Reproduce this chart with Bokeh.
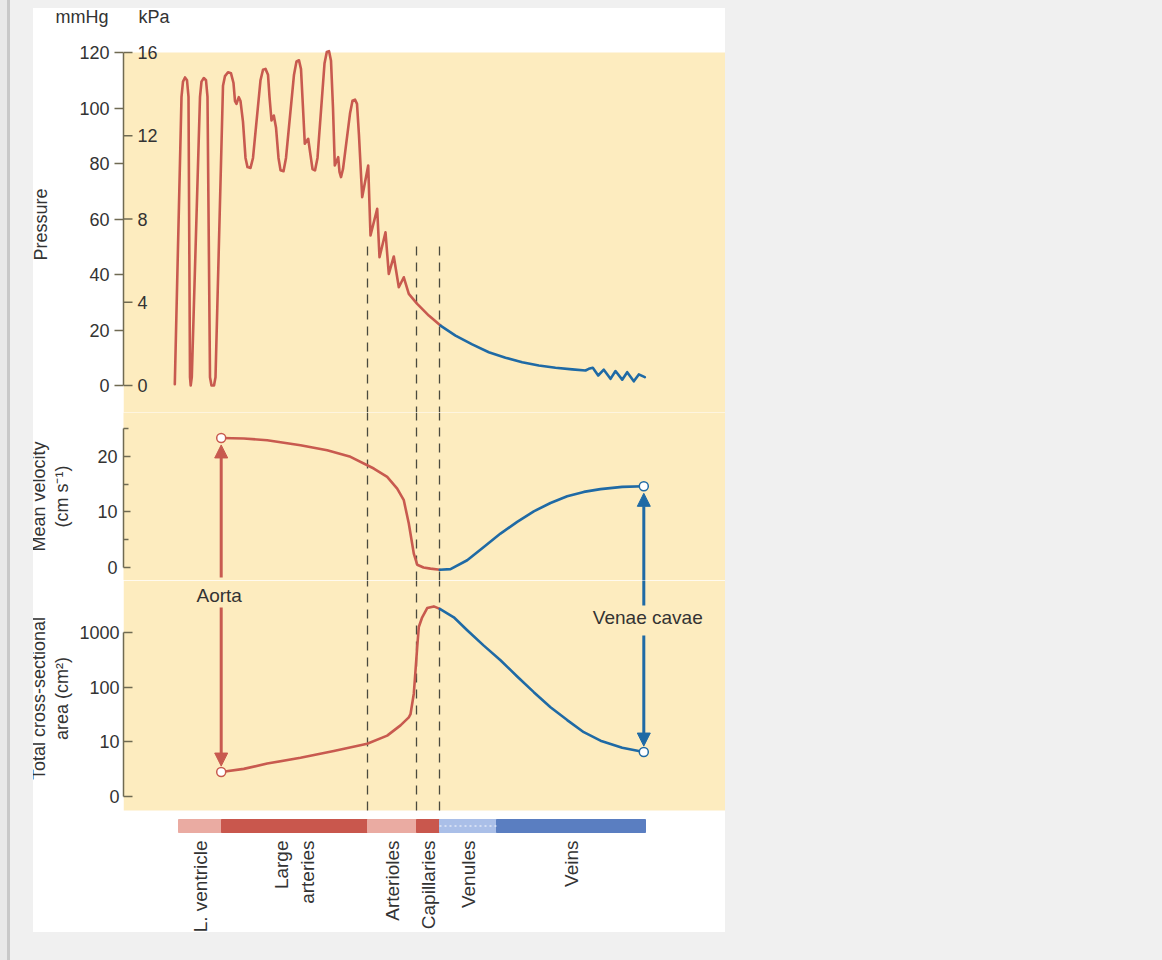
import math
from bokeh.plotting import figure
from bokeh.layouts import row, column
from bokeh.models import (Range1d, LinearAxis, LogAxis, FixedTicker, Arrow, NormalHead,
                          BoxAnnotation, Spacer, Div)
from bokeh.core.properties import value
from bokeh.embed import file_html
from bokeh.resources import INLINE

# ---------------- data ----------------
segment_names = ["L. ventricle", "Large\narteries", "Arterioles", "Capillaries", "Venules", "Veins"]
segment_edges = [0, 43, 189, 238, 261, 318, 467]   # position along the circulation

pressure_ticks_mmhg = [0, 20, 40, 60, 80, 100, 120]
pressure_ticks_kpa = [0, 4, 8, 12, 16]
velocity_ticks = [0, 10, 20]
velocity_minor_ticks = [5, 15, 25]
area_ticks = [1, 10, 100, 1000]
area_tick_labels = ["0", "10", "100", "1000"]
unit_names = ["mmHg", "kPa"]

# pressure (mmHg), arterial side (red) and venous side (blue)
art_pos = [-3.7, 3.0, 4.5, 6.5, 8.5, 10.0, 11.5, 12.2, 13.3,
           21.5, 23.0, 25.3, 27.5, 29.0, 31.5, 33.0, 35.5, 37.0,
           44.5, 46.5, 49.5, 52.5, 55.0, 56.5, 58.0, 60.3, 62.0, 64.5, 67.0, 69.0, 72.0, 74.5,
           82.0, 84.5, 87.0, 89.5, 91.0, 93.0, 95.3, 97.5, 100.0, 102.0, 105.0, 107.5,
           115.5, 118.0, 120.5, 122.5, 124.5, 126.3, 129.7, 132.0, 134.0, 136.5, 139.0,
           146.0, 148.3, 150.5, 152.5, 154.5, 156.3, 159.7, 161.0, 162.5, 164.5,
           171.5, 174.0, 176.5, 178.5, 180.5, 183.7,
           189.7, 192.0, 198.7, 201.0, 207.0, 210.3, 215.3, 220.3, 225.3, 230.3, 238.7,
           250.3, 262.0]
art_pressure = [0.5, 104, 109.5, 111.0, 110.0, 104, 3, 0, 3,
                104, 109.5, 110.8, 110.0, 104, 3, 0, 0, 3,
                108, 111.5, 112.9, 112.5, 109, 102.5, 101.5, 103.9, 102.5, 95, 82, 78.7, 78.4, 82,
                110, 113.8, 114.1, 112, 104, 95.5, 97.3, 93, 82, 77.6, 77.2, 82,
                112, 116.8, 117.2, 114, 100, 87.1, 88.9, 83, 78, 77.5, 82,
                116, 120.2, 120.5, 117, 100, 79.3, 82.3, 77, 75.1, 78,
                98, 102.6, 103.0, 101.5, 90, 67.9,
                79.3, 54.1, 63.7, 46.2, 55.2, 40.2, 46.5, 35.4, 39.0, 33.0, 29.4, 25.2, 21.6]
ven_pos = [262.0, 277.0, 293.7, 310.3, 327.0, 343.7, 360.3, 377.0, 393.7, 407.0, 410.3,
           414.3, 419.7, 425.3, 432.0, 437.0, 443.7, 448.7, 455.3, 460.3, 466.3]
ven_pressure = [21.6, 18.0, 14.8, 12.0, 10.0, 8.4, 7.2, 6.4, 5.8, 5.4, 6.0, 6.4, 3.6, 5.7,
                2.4, 5.2, 2.1, 4.8, 1.5, 4.0, 3.0]

# mean velocity (cm/s)
art_vel_pos = [42.7, 65.3, 88.7, 122.0, 148.7, 172.0, 195.3, 208.7, 218.7, 225.3, 230.3,
               235.3, 238.7, 245.0, 252.0, 261.3]
art_velocity = [23.3, 23.2, 22.9, 22.0, 21.1, 19.9, 17.8, 16.3, 14.2, 12.1, 7.9, 2.5, 0.5,
                0.0, -0.2, -0.4]
ven_vel_pos = [261.3, 272.0, 288.7, 305.3, 322.0, 338.7, 355.3, 372.0, 388.7, 405.3, 422.0,
               443.7, 465.3]
ven_velocity = [-0.4, -0.3, 1.3, 3.7, 6.1, 8.2, 10.1, 11.6, 12.8, 13.6, 14.1, 14.5, 14.6]

# total cross-sectional area (cm^2)
art_area_pos = [42.7, 65.3, 88.7, 122.0, 155.3, 188.7, 208.7, 222.0, 230.3, 232.0, 235.3,
                237.0, 238.7, 240.3, 243.7, 248.7, 255.3, 261.3]
art_area = [2.8, 3.2, 4.0, 5.1, 6.8, 9.2, 13, 20, 28, 32, 76, 200, 540, 1260, 1900, 2800,
            3000, 2700]
ven_area_pos = [261.3, 275.3, 288.7, 305.3, 322.0, 338.7, 355.3, 372.0, 388.7, 405.3, 422.0,
                443.7, 465.3]
ven_area = [2700, 1900, 1100, 575, 310, 157, 81, 43, 25, 15, 10.5, 7.8, 6.5]

# ---------------- style ----------------
YELLOW = "#fdecbf"
RED = "#c85a4f"
BLUE = "#1f6aa5"
SEG_COLORS = ["#eaaba2", "#c9574d", "#eaaba2", "#c9574d", "#aabfe8", "#5a7ec1"]
AXIS_COLOR = "#6f6a52"
TEXT_COLOR = "#333333"
GREY = "#f0f0f0"
FONT = "Liberation Sans"
FS = "18px"
FS_BIG = "19px"

# ---------------- layout (page pixels) ----------------
FIG_X = 25           # page x of the figures' left edge
PANEL_X = 33         # page x where the white panel starts
FRAME_X = 123        # page x of the plotting frame's left edge
W = 725 - FIG_X      # figure width (frame ends at page x 725)
LEFT = FRAME_X - FIG_X
X_RANGE = (FRAME_X - 178, 725 - 178)   # position 0 sits at page x 178
HEAD_TOP, F1_TOP, F2_TOP, F3_TOP, F4_TOP, BOTTOM = 8, 36, 412, 580, 816, 932
P_ZERO_Y, P_PX = 385, 333 / 120       # pressure: page y of 0 mmHg, px per mmHg
V_ZERO_Y, V_PX = 567, 139 / 25        # velocity
A_ONE_Y, A_PX = 796, 164 / 3          # area: page y of 1 cm^2 ("0"), px per decade
YELLOW_BOTTOM_Y = 810


def yp(py):
    return (P_ZERO_Y - py) / P_PX


def yv(py):
    return (V_ZERO_Y - py) / V_PX


def ya(py):
    return 10 ** ((A_ONE_Y - py) / A_PX)


def make_fig(height, y_range, bg, **kw):
    f = figure(width=W, height=height, x_range=Range1d(*X_RANGE), y_range=y_range,
               output_backend="svg", toolbar_location=None, title=None,
               x_axis_location=None, y_axis_location=None,
               min_border_left=LEFT, min_border_right=0, min_border_top=0,
               min_border_bottom=0, background_fill_color=bg,
               border_fill_color="white", outline_line_color=None, **kw)
    f.xgrid.visible = False
    f.ygrid.visible = False
    return f


def style_axis(ax):
    ax.axis_line_color = AXIS_COLOR
    ax.axis_line_width = 1.5
    ax.major_tick_line_color = AXIS_COLOR
    ax.major_tick_line_width = 1.5
    ax.minor_tick_line_color = AXIS_COLOR
    ax.minor_tick_line_width = 1.5
    ax.major_label_text_font = FONT
    ax.major_label_text_font_size = FS
    ax.major_label_text_color = TEXT_COLOR
    ax.axis_label_text_font = FONT
    ax.axis_label_text_font_size = FS
    ax.axis_label_text_font_style = "normal"
    ax.axis_label_text_color = TEXT_COLOR
    ax.axis_label_text_line_height = 1.15


def dashed(f, y0, y1):
    for xb in segment_edges[2:5]:
        f.segment(x0=xb, y0=y0, x1=xb, y1=y1, line_color="#4a4a3e", line_width=1.3,
                  line_dash="9 7")


def text(f, x, y, t, size=FS, **kw):
    f.text(x=x, y=y, text=t, text_font=value(FONT), text_font_size=size,
           text_color=TEXT_COLOR, **kw)


def curve(f, x, y, color):
    f.line(x, y, line_color=color, line_width=2.6, line_join="round", line_cap="round")


# ---------- header with the unit names ----------
unit_centers = [82 - FIG_X, 154 - FIG_X]
spans = "".join(
    f'<span style="position:absolute;left:{cx}px;top:9px;transform:translate(-50%,-50%);'
    f'white-space:nowrap">{name}</span>'
    for cx, name in zip(unit_centers, unit_names))
head = Div(text=(f'<div style="position:relative;width:{W}px;height:{F1_TOP - HEAD_TOP}px;'
                 f"font-family:'{FONT}';font-size:{FS};color:{TEXT_COLOR};line-height:1\">"
                 f'{spans}</div>'),
           width=W, height=F1_TOP - HEAD_TOP, margin=0,
           styles={"background-color": "white"})

# ---------- panel 1: pressure ----------
f1 = make_fig(F2_TOP - F1_TOP, Range1d(yp(F2_TOP), yp(F1_TOP)), "white")
f1.add_layout(BoxAnnotation(top=pressure_ticks_mmhg[-1], fill_color=YELLOW, fill_alpha=1,
                            line_color=None, level="underlay"))
ax1 = LinearAxis(ticker=FixedTicker(ticks=pressure_ticks_mmhg, minor_ticks=[]),
                 bounds=(0, 120), axis_label="Pressure")
style_axis(ax1)
ax1.major_tick_out = 9
ax1.major_tick_in = 0
ax1.major_label_standoff = 5
ax1.axis_label_standoff = 25
f1.add_layout(ax1, "left")

kpa_as_mmhg = [k * 7.5 for k in pressure_ticks_kpa]
f1.segment(x0=X_RANGE[0], y0=kpa_as_mmhg, x1=X_RANGE[0] + 9, y1=kpa_as_mmhg,
           line_color=AXIS_COLOR, line_width=1.5)
text(f1, [X_RANGE[0] + 14] * len(pressure_ticks_kpa), kpa_as_mmhg,
     [str(k) for k in pressure_ticks_kpa], text_align="left", text_baseline="middle")
dashed(f1, yp(246), yp(F2_TOP))
curve(f1, art_pos, art_pressure, RED)
curve(f1, ven_pos, ven_pressure, BLUE)

# ---------- panel 2: mean velocity ----------
f2 = make_fig(F3_TOP - F2_TOP, Range1d(yv(F3_TOP), yv(F2_TOP)), YELLOW)
ax2 = LinearAxis(ticker=FixedTicker(ticks=velocity_ticks, minor_ticks=velocity_minor_ticks),
                 bounds=(0, 25), axis_label="Mean velocity\n(cm s\u207b\u00b9)")
style_axis(ax2)
ax2.major_tick_out = 0
ax2.major_tick_in = 7
ax2.minor_tick_out = 0
ax2.minor_tick_in = 5
ax2.major_label_standoff = 6
ax2.axis_label_standoff = 22
f2.add_layout(ax2, "left")
dashed(f2, yv(F3_TOP), yv(F2_TOP))
curve(f2, art_vel_pos, art_velocity, RED)
curve(f2, ven_vel_pos, ven_velocity, BLUE)

a_x, v_x = art_vel_pos[0], ven_vel_pos[-1]
f2.add_layout(Arrow(x_start=a_x, y_start=yv(577), x_end=a_x,
                    y_end=art_velocity[0] - 7 / V_PX, line_color=RED, line_width=3,
                    end=NormalHead(size=13, fill_color=RED, line_color=RED)))
f2.add_layout(Arrow(x_start=v_x, y_start=yv(605), x_end=v_x,
                    y_end=ven_velocity[-1] - 7 / V_PX, line_color=BLUE, line_width=3,
                    end=NormalHead(size=13, fill_color=BLUE, line_color=BLUE)))
f2.scatter([a_x], [art_velocity[0]], size=9, fill_color="white", line_color=RED,
           line_width=1.5)
f2.scatter([v_x], [ven_velocity[-1]], size=9, fill_color="white", line_color=BLUE,
           line_width=1.5)

# ---------- panel 3: total cross-sectional area ----------
f3 = make_fig(F4_TOP - F3_TOP, Range1d(ya(F4_TOP), ya(F3_TOP)), "white", y_axis_type="log")
f3.add_layout(BoxAnnotation(bottom=ya(YELLOW_BOTTOM_Y), fill_color=YELLOW, fill_alpha=1,
                            line_color=None, level="underlay"))
ax3 = LogAxis(ticker=FixedTicker(ticks=area_ticks, minor_ticks=[]), bounds=(1, 1000),
              axis_label="Total cross-sectional\narea (cm\u00b2)",
              major_label_overrides=dict(zip(area_ticks, area_tick_labels)))
style_axis(ax3)
ax3.major_tick_out = 0
ax3.major_tick_in = 9
ax3.major_label_standoff = 4
ax3.axis_label_standoff = 4
f3.add_layout(ax3, "left")
dashed(f3, ya(YELLOW_BOTTOM_Y), ya(F3_TOP))
curve(f3, art_area_pos, art_area, RED)
curve(f3, ven_area_pos, ven_area, BLUE)
f3.add_layout(Arrow(x_start=a_x, y_start=ya(607), x_end=a_x,
                    y_end=art_area[0] * 10 ** (6 / A_PX), line_color=RED, line_width=3,
                    end=NormalHead(size=13, fill_color=RED, line_color=RED)))
f3.segment(x0=v_x, y0=ya(570), x1=v_x, y1=ya(605), line_color=BLUE, line_width=3)
f3.add_layout(Arrow(x_start=v_x, y_start=ya(635), x_end=v_x,
                    y_end=ven_area[-1] * 10 ** (6 / A_PX), line_color=BLUE, line_width=3,
                    end=NormalHead(size=13, fill_color=BLUE, line_color=BLUE)))
text(f3, [a_x - 2, v_x + 4], [ya(595), ya(617)], ["Aorta", "Venae cavae"], size=FS_BIG,
     text_align="center", text_baseline="middle")
f3.scatter([a_x], [art_area[0]], size=9, fill_color="white", line_color=RED, line_width=1.5)
f3.scatter([v_x], [ven_area[-1]], size=9, fill_color="white", line_color=BLUE,
           line_width=1.5)

# ---------- panel 4: vessel bar and labels ----------
f4 = make_fig(BOTTOM - F4_TOP, Range1d(-(BOTTOM - F4_TOP), 0), "white")
f4.quad(left=segment_edges[:-1], right=segment_edges[1:], bottom=-16, top=-3,
        fill_color=SEG_COLORS, line_color=SEG_COLORS, line_width=1)
f4.segment(x0=segment_edges[4], y0=-9.5, x1=segment_edges[5], y1=-9.5,
           line_color="white", line_width=1, line_dash="2 3")
centers = [(a + b) / 2 for a, b in zip(segment_edges[:-1], segment_edges[1:])]
text(f4, centers, [-24] * len(centers), segment_names, size=FS_BIG, angle=math.pi / 2,
     text_align="right", text_baseline="middle")

# ---------- page ----------
# the grey strip left of the panel casts a flat grey "shadow" over the first
# few pixels of the figures, so that the white panel starts at PANEL_X
edge = PANEL_X - FIG_X
layout = row(
    Spacer(width=7, height=960, styles={"background-color": "#e8e8e8"}),
    Spacer(width=3, height=960, styles={"background-color": "#c8c8c8"}),
    Spacer(width=FIG_X - 10, height=960,
           styles={"background-color": GREY, "position": "relative", "z-index": "10",
                   "box-shadow": f"{edge}px 0 0 0 {GREY}"}),
    column(Spacer(width=W, height=HEAD_TOP, styles={"background-color": GREY}),
           head, f1, f2, f3, f4,
           Spacer(width=W, height=960 - BOTTOM, styles={"background-color": GREY})),
    Spacer(width=1162 - FIG_X - W, height=960, styles={"background-color": GREY}),
)

open("out.html", "w").write(file_html(layout, INLINE))
